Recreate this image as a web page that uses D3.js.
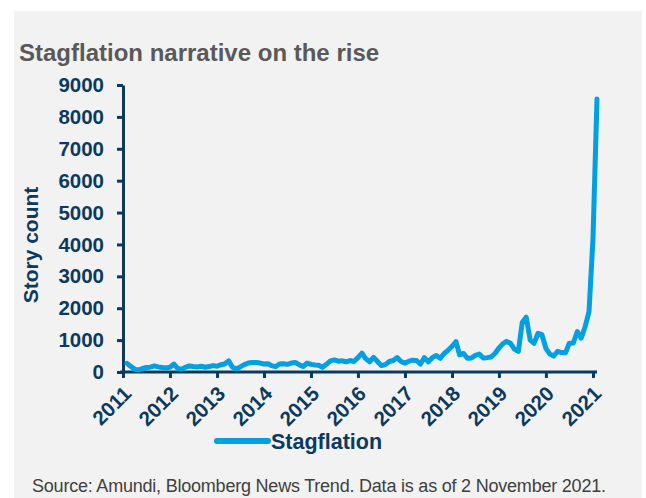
<!DOCTYPE html>
<html>
<head>
<meta charset="utf-8">
<script src="https://cdn.jsdelivr.net/npm/d3@7"></script>
<style>
  body { margin: 0; background: #fff; }
  svg { display: block; font-family: "Liberation Sans", Arial, sans-serif; }
</style>
</head>
<body>
<svg id="chart" width="646" height="498"></svg>
<script>
// monthly story counts, Feb 2011 onwards
var startMonth = new Date(2011, 1, 1)
var storyCount = [
  270, 180, 90, 60, 110, 140, 150, 190, 160, 140, 130, 150,
  250, 110, 90, 150, 190, 170, 160, 180, 150, 170, 200, 180,
  230, 250, 350, 150, 100, 160, 230, 280, 300, 300, 280, 250,
  260, 200, 170, 250, 260, 240, 280, 300, 230, 170, 280, 240,
  220, 210, 150, 240, 350, 380, 340, 350, 320, 360, 330, 450,
  590, 420, 320, 460, 330, 200, 230, 330, 360, 450, 330, 280,
  340, 370, 360, 250, 450, 320, 450, 520, 430, 580, 680, 800,
  950, 540, 580, 430, 440, 520, 560, 440, 450, 470, 580, 750,
  890, 960, 900, 720, 650, 1550, 1720, 1000, 900, 1215, 1170, 740,
  560, 500, 650, 610, 600, 900, 910, 1270, 1060, 1420, 1890, 4200,
  8560
]
var yearTicks = [2011, 2012, 2013, 2014, 2015, 2016, 2017, 2018, 2019, 2020, 2021]
var yTicks = [0, 1000, 2000, 3000, 4000, 5000, 6000, 7000, 8000, 9000]

var navy = "#0b3a5e"
var blue = "#00a0e2"

var data = storyCount.map(function(v, i) {
    return { date: d3.timeMonth.offset(startMonth, i), value: v }
})

var svg = d3.select("#chart")

// grey panel
svg.append("rect")
    .attr("x", 14)
    .attr("y", 11)
    .attr("width", 628)
    .attr("height", 487)
    .attr("fill", "#f2f2f2")

svg.append("text")
    .attr("x", 19)
    .attr("y", 61)
    .attr("fill", "#595959")
    .style("font-size", "24px")
    .style("font-weight", "bold")
    .text("Stagflation narrative on the rise")

var x = d3.scaleTime()
    .domain([new Date(2011, 0, 1), new Date(2021, 0, 1)])
    .range([123, 593])

var y = d3.scaleLinear()
    .domain([0, 9000])
    .range([372, 85])

// y axis
var yAxis = svg.append("g")
    .attr("transform", "translate(123,0)")
    .call(d3.axisLeft(y).tickValues(yTicks).tickFormat(d3.format("d"))
        .tickSize(6).tickSizeOuter(0).tickPadding(13))

yAxis.select(".domain").attr("stroke", navy).attr("stroke-width", 3)
yAxis.selectAll(".tick line").attr("stroke", navy).attr("stroke-width", 3)
yAxis.selectAll(".tick text")
    .attr("fill", navy)
    .style("font-size", "20.5px")
    .style("font-weight", "bold")
    .style("font-family", "'Liberation Sans', Arial, sans-serif")

svg.append("text")
    .attr("transform", "translate(38,245) rotate(-90)")
    .attr("text-anchor", "middle")
    .attr("fill", navy)
    .style("font-size", "21px")
    .style("font-weight", "bold")
    .text("Story count")

// x axis
var xAxis = svg.append("g")
    .attr("transform", "translate(0,372)")
    .call(d3.axisBottom(x)
        .tickValues(yearTicks.map(function(d) { return new Date(d, 0, 1) }))
        .tickFormat(d3.timeFormat("%Y"))
        .tickSize(6)
        .tickSizeOuter(0))

xAxis.select(".domain")
    .attr("d", "M120,0H597")
    .attr("stroke", navy)
    .attr("stroke-width", 3)
xAxis.selectAll(".tick line").attr("stroke", navy).attr("stroke-width", 3)
xAxis.selectAll(".tick text")
    .attr("fill", navy)
    .attr("text-anchor", "end")
    .attr("x", null)
    .attr("y", null)
    .attr("dy", null)
    .attr("transform", "translate(9,23) rotate(-45)")
    .style("font-size", "20.5px")
    .style("font-weight", "bold")
    .style("font-family", "'Liberation Sans', Arial, sans-serif")

// series line
var line = d3.line()
    .x(function(d) { return x(d.date) })
    .y(function(d) { return y(d.value) })

svg.append("path")
    .datum(data)
    .attr("d", line)
    .attr("fill", "none")
    .attr("stroke", blue)
    .attr("stroke-width", 5)
    .attr("stroke-linejoin", "round")
    .attr("stroke-linecap", "round")

// legend
svg.append("line")
    .attr("x1", 217)
    .attr("x2", 268)
    .attr("y1", 441)
    .attr("y2", 441)
    .attr("stroke", blue)
    .attr("stroke-width", 6)
    .attr("stroke-linecap", "round")

svg.append("text")
    .attr("x", 271)
    .attr("y", 449)
    .attr("fill", navy)
    .style("font-size", "21.5px")
    .style("font-weight", "bold")
    .text("Stagflation")

svg.append("text")
    .attr("x", 32)
    .attr("y", 492)
    .attr("fill", "#404040")
    .attr("textLength", 574)
    .style("font-size", "18px")
    .text("Source: Amundi, Bloomberg News Trend. Data is as of 2 November 2021.")
</script>
</body>
</html>
